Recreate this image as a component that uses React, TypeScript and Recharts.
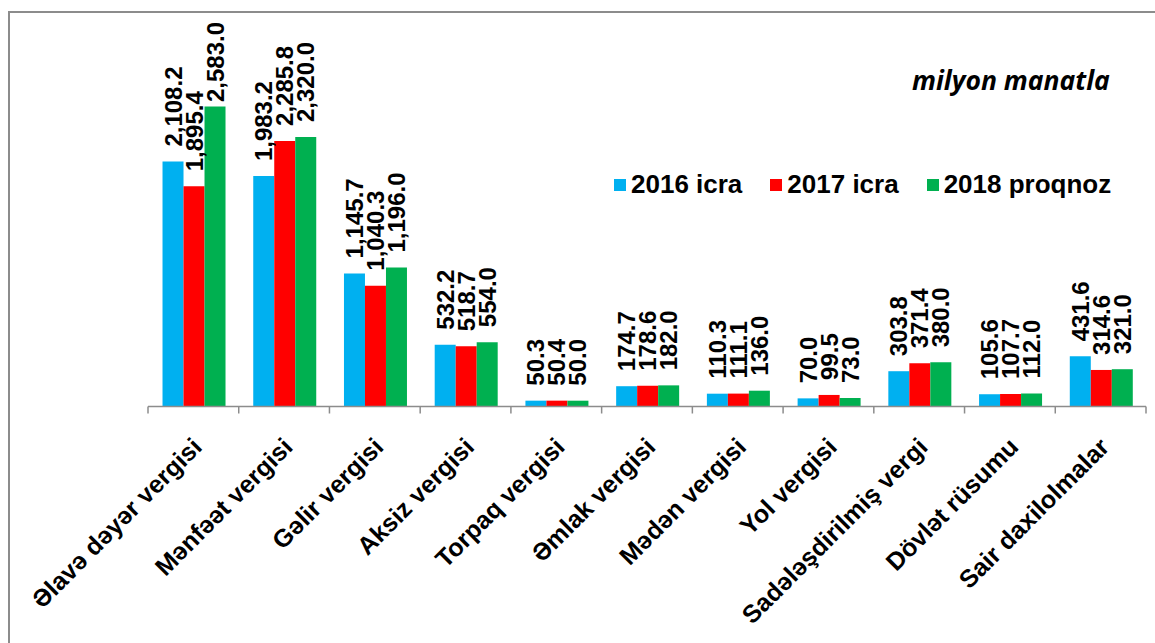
import React from "react";
import { BarChart, Bar, XAxis, YAxis, LabelList, Legend } from "recharts";

const categories = [
  "Əlavə dəyər vergisi",
  "Mənfəət vergisi",
  "Gəlir vergisi",
  "Aksiz vergisi",
  "Torpaq vergisi",
  "Əmlak vergisi",
  "Mədən vergisi",
  "Yol vergisi",
  "Sadələşdirilmiş vergi",
  "Dövlət rüsumu",
  "Sair daxilolmalar",
];
const s2016 = [2108.2, 1983.2, 1145.7, 532.2, 50.3, 174.7, 110.3, 70.0, 303.8, 105.6, 431.6];
const s2017 = [1895.4, 2285.8, 1040.3, 518.7, 50.4, 178.6, 111.1, 99.5, 371.4, 107.7, 314.6];
const s2018 = [2583.0, 2320.0, 1196.0, 554.0, 50.0, 182.0, 136.0, 73.0, 380.0, 112.0, 321.0];
const seriesNames = ["2016 icra", "2017 icra", "2018 proqnoz"];
const seriesColors = ["#00B0F0", "#FF0000", "#00B050"];
const unitLabel = "milyon manatla";

const data = categories.map((name, i) => ({
  name,
  a: s2016[i],
  b: s2017[i],
  c: s2018[i],
}));

const W = 1155;
const H = 643;
const LEFT = 148;
const RIGHT = 9;
const TOP = 58;
const BASE = 406.5;
const BW = (W - LEFT - RIGHT) / categories.length;
const FONT = "'Liberation Sans', Arial, sans-serif";

const fmt = (v: number) =>
  v.toLocaleString("en-US", { minimumFractionDigits: 1, maximumFractionDigits: 1 });

const textLen = (s: string, fs: number) =>
  s.split("").reduce((acc, ch) => acc + (/[0-9]/.test(ch) ? 0.556 : 0.278), 0) * fs;

const ValueLabel = (props: any) => {
  const { x, y, width, value } = props;
  const fs = 24;
  const txt = fmt(Number(value));
  const len = textLen(txt, fs);
  let by = y - 15;
  if (by - len < 22) by = 22 + len;
  const cx = x + width / 2;
  return (
    <text
      transform={`translate(${cx},${by}) rotate(-90)`}
      textAnchor="start"
      dominantBaseline="central"
      fontFamily={FONT}
      fontWeight="bold"
      fontSize={fs}
      fill="#000"
    >
      {txt}
    </text>
  );
};

const CatTick = (props: any) => {
  const { x, payload, index } = props;
  const left = x - BW / 2;
  const right = x + BW / 2;
  return (
    <g>
      <line x1={left} y1={BASE} x2={left} y2={BASE + 7} stroke="#8c8c8c" strokeWidth={1.5} />
      {index === categories.length - 1 && (
        <line x1={right} y1={BASE} x2={right} y2={BASE + 7} stroke="#8c8c8c" strokeWidth={1.5} />
      )}
      <text
        transform={`translate(${x + 10},${BASE + 42}) rotate(-45)`}
        textAnchor="end"
        fontFamily={FONT}
        fontWeight="bold"
        fontSize={25}
        fill="#000"
      >
        {payload.value}
      </text>
    </g>
  );
};

const LegendContent = () => (
  <div style={{ display: "flex", alignItems: "center", fontFamily: FONT, fontWeight: "bold", fontSize: 26, color: "#000", whiteSpace: "nowrap" }}>
    {seriesNames.map((n, i) => (
      <div key={n} style={{ display: "flex", alignItems: "center", marginRight: i < 2 ? 28 : 0 }}>
        <div style={{ width: 12, height: 12, background: seriesColors[i], marginRight: 5 }} />
        <span>{n}</span>
      </div>
    ))}
  </div>
);

export default function App() {
  return (
    <div style={{ position: "absolute", left: 0, top: 0, width: W, height: H, overflow: "hidden", background: "#fff" }}>
      <div
        style={{
          position: "absolute",
          left: 8,
          top: 11,
          width: 1170,
          height: 660,
          border: "2px solid #8c8c8c",
        }}
      />
      <div
        style={{
          position: "absolute",
          left: 912,
          top: 67,
          fontFamily: "'Open Sans', sans-serif",
          fontStyle: "italic",
          fontWeight: 700,
          fontSize: 26.5,
          lineHeight: 1,
          color: "#000",
          whiteSpace: "nowrap",
        }}
      >
        {unitLabel}
      </div>
      <div style={{ position: "absolute", left: 0, top: 0 }}>
        <BarChart
          width={W}
          height={H}
          data={data}
          margin={{ top: TOP, right: RIGHT, bottom: H - BASE - 200, left: LEFT }}
          barCategoryGap="16%"
          barGap={0}
        >
          <YAxis hide domain={[0, 3000]} />
          <XAxis
            dataKey="name"
            interval={0}
            height={200}
            tickLine={false}
            axisLine={{ stroke: "#8c8c8c", strokeWidth: 1.5 }}
            tick={<CatTick />}
          />
          <Legend
            layout="horizontal"
            verticalAlign="middle"
            align="center"
            content={<LegendContent />}
            wrapperStyle={{ position: "absolute", left: 614, top: 169, width: "auto" }}
          />
          <Bar dataKey="a" name={seriesNames[0]} fill={seriesColors[0]} isAnimationActive={false}>
            <LabelList dataKey="a" content={<ValueLabel />} />
          </Bar>
          <Bar dataKey="b" name={seriesNames[1]} fill={seriesColors[1]} isAnimationActive={false}>
            <LabelList dataKey="b" content={<ValueLabel />} />
          </Bar>
          <Bar dataKey="c" name={seriesNames[2]} fill={seriesColors[2]} isAnimationActive={false}>
            <LabelList dataKey="c" content={<ValueLabel />} />
          </Bar>
        </BarChart>
      </div>
    </div>
  );
}
